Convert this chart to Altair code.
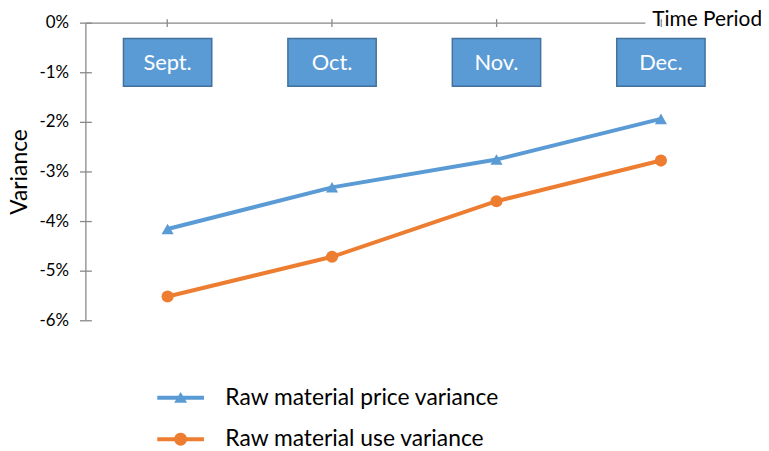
import altair as alt
import pandas as pd

months = ["Sept.", "Oct.", "Nov.", "Dec."]
series_names = ["Raw material price variance", "Raw material use variance"]
price_variance = [-0.0416, -0.0332, -0.0276, -0.0194]
use_variance = [-0.0552, -0.0472, -0.0360, -0.0278]
y_ticks = [0, -0.01, -0.02, -0.03, -0.04, -0.05, -0.06]

colors = ["#5B9BD5", "#ED7D31"]
axis_gray = "#888888"
FONT = "Lato"

rows = []
for m, v in zip(months, price_variance):
    rows.append({"month": m, "value": v, "series": series_names[0], "key": series_names[0]})
for m, v in zip(months, use_variance):
    rows.append({"month": m, "value": v, "series": series_names[1], "key": series_names[1]})
df = pd.DataFrame(rows)
mdf = pd.DataFrame({"month": months})

W, H = 663, 300

# legend symbols: line segment + marker (unit = 21 px)
tri_path = "M-1.12,-0.095H1.12V0.095H-1.12Z M0,-0.27L0.31,0.24L-0.31,0.24Z"
circ_path = "M-1.12,-0.095H1.12V0.095H-1.12Z M0.31,0A0.31,0.31 0 1,1 -0.31,0A0.31,0.31 0 1,1 0.31,0Z"

x_axis = alt.Axis(
    orient="top", labels=False, tickSize=4, tickColor=axis_gray, tickWidth=1.3,
    domainColor=axis_gray, domainWidth=1.3, domainDash=[564, 400],
    grid=True, gridDash=[0, H - 4, 4, 1000], gridColor=axis_gray, gridWidth=1.3,
    title="Time Period", titleFont=FONT, titleFontSize=21, titleFontWeight="normal",
    titleColor="black", titleX=571, titleY=3, titleAlign="left", titleBaseline="alphabetic",
    titleAngle=0,
)
x_enc = alt.X("month:N", sort=months,
              scale=alt.Scale(domain=months, paddingInner=0, paddingOuter=0, round=False),
              axis=x_axis)

y_axis = alt.Axis(
    values=y_ticks, format=".0%", labelExpr="replace(datum.label, '\u2212', '-')",
    labelFont=FONT, labelFontSize=17, labelColor="black", labelPadding=11,
    tickSize=6, tickColor=axis_gray, tickWidth=1.3,
    domainColor=axis_gray, domainWidth=1.3,
    grid=True, gridDash=[6, 1000], gridColor=axis_gray, gridWidth=1.3,
    title="Variance", titleFont=FONT, titleFontSize=23, titleFontWeight="normal",
    titleColor="black", titleX=-59, titleY=150, titleAngle=270,
    titleAlign="center", titleBaseline="alphabetic",
)
y_enc = alt.Y("value:Q", scale=alt.Scale(domain=[-0.06, 0], nice=False, zero=False), axis=y_axis)

color_scale = alt.Scale(domain=series_names, range=colors)

legend = alt.Legend(
    title=None, orient="none", legendX=75, legendY=357, padding=0,
    direction="vertical", symbolSize=1764, symbolStrokeWidth=0, symbolOpacity=1,
    labelFont=FONT, labelFontSize=23, labelColor="black", labelOffset=24,
    labelLimit=500,
)

lines = alt.Chart(df).mark_line(strokeWidth=4).encode(
    x=x_enc,
    y=y_enc,
    color=alt.Color("series:N", scale=color_scale, legend=None),
)

points = alt.Chart(df).mark_point(filled=True, opacity=1, size=150).encode(
    x=x_enc,
    y=y_enc,
    color=alt.Color("series:N", scale=color_scale, legend=None),
    shape=alt.Shape("series:N", scale=alt.Scale(domain=series_names, range=["triangle-up", "circle"]), legend=None),
)

legend_layer = alt.Chart(df).mark_point(filled=True, opacity=0, size=10).encode(
    x=x_enc,
    y=y_enc,
    color=alt.Color("key:N", scale=color_scale, legend=legend),
    shape=alt.Shape("key:N", scale=alt.Scale(domain=series_names, range=[tri_path, circ_path]), legend=legend),
)

boxes = alt.Chart(mdf).mark_rect(width=89, fill="#5B9BD5", stroke="#41719C", strokeWidth=1.5).encode(
    x=x_enc,
    y=alt.value(16),
    y2=alt.value(64),
)

box_text = alt.Chart(mdf).mark_text(font=FONT, fontSize=22, color="white", baseline="alphabetic").encode(
    x=x_enc,
    y=alt.value(48),
    text="month:N",
)

chart = alt.layer(lines, points, legend_layer, boxes, box_text).resolve_scale(
    shape="independent", color="independent"
).properties(
    width=W, height=H, background="white",
    padding={"left": 78, "top": 13, "right": 18, "bottom": 130},
    autosize=alt.AutoSizeParams(type="none"),
).configure_view(strokeWidth=0, stroke=None).configure_legend(rowPadding=9)

chart.save("out.html", embed_options={"renderer": "svg", "actions": False})
